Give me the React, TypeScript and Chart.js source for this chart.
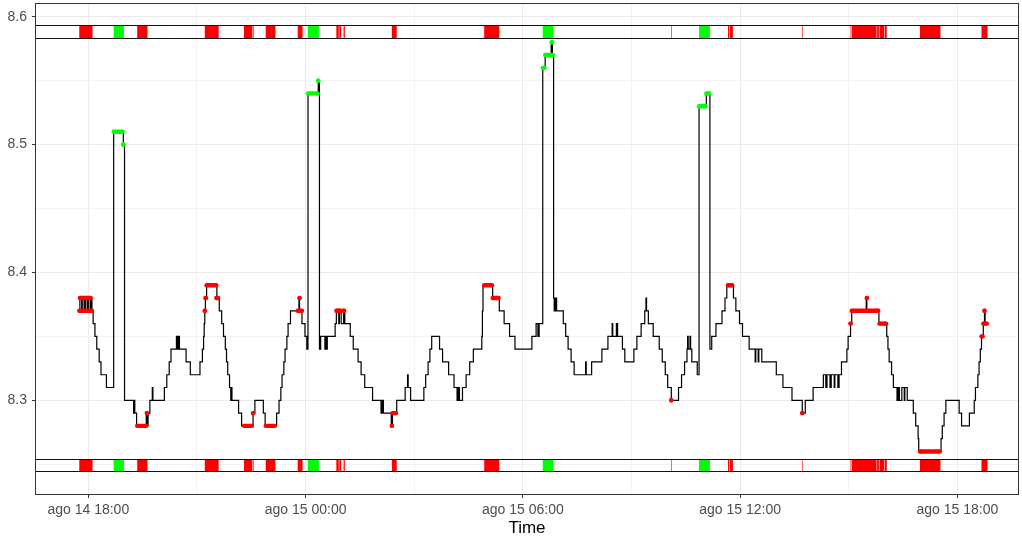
import React, { useEffect, useRef } from "react";
import { Chart, registerables } from "chart.js";
Chart.register(...registerables);

// time in minutes since ago 14 00:00
const lineTimes = [
  1065, 1066, 1069, 1070, 1073, 1075, 1078, 1080, 1083, 1084, 1086, 1088, 1091, 1094, 1098, 1101, 1110,
  1122, 1138, 1140, 1155, 1156, 1157, 1160, 1176, 1177, 1179, 1182, 1186, 1187, 1206, 1210, 1214, 1217,
  1226, 1228, 1229, 1231, 1242, 1249, 1265, 1269, 1271, 1272, 1273, 1274, 1276, 1293, 1297, 1301, 1304,
  1307, 1309, 1311, 1314, 1316, 1317, 1318, 1329, 1334, 1353, 1356, 1370, 1373, 1392, 1396, 1399, 1401,
  1404, 1406, 1409, 1411, 1415, 1429, 1430, 1434, 1439, 1442, 1444, 1461, 1463, 1465, 1472, 1473, 1475,
  1476, 1489, 1491, 1495, 1496, 1499, 1503, 1505, 1514, 1519, 1527, 1532, 1538, 1551, 1565, 1567, 1569,
  1582, 1584, 1591, 1605, 1609, 1610, 1614, 1636, 1639, 1643, 1646, 1649, 1662, 1667, 1677, 1686, 1691,
  1693, 1695, 1700, 1706, 1712, 1718, 1732, 1733, 1734, 1750, 1761, 1769, 1778, 1787, 1815, 1822, 1825,
  1827, 1833, 1837, 1847, 1849, 1851, 1852, 1854, 1856, 1867, 1871, 1875, 1880, 1885, 1904, 1905, 1914,
  1931, 1941, 1948, 1949, 1955, 1957, 1965, 1969, 1984, 1989, 1996, 2002, 2004, 2005, 2008, 2016, 2026,
  2031, 2036, 2040, 2046, 2058, 2063, 2068, 2072, 2073, 2074, 2077, 2078, 2080, 2089, 2092, 2104, 2110,
  2113, 2120, 2130, 2135, 2138, 2149, 2153, 2159, 2164, 2175, 2185, 2186, 2190, 2191, 2196, 2220, 2231,
  2246, 2263, 2268, 2281, 2298, 2302, 2304, 2309, 2311, 2316, 2317, 2322, 2324, 2328, 2337, 2339, 2343,
  2345, 2369, 2370, 2390, 2403, 2405, 2407, 2411, 2414, 2420, 2422, 2424, 2428, 2432, 2433, 2437, 2447,
  2451, 2455, 2456, 2493, 2495, 2498, 2501, 2523, 2527, 2540, 2548, 2550, 2554, 2556, 2558, 2560, 2563,
  2565, 2566, 2569,
];
const lineValues = [
  8.37, 8.38, 8.37, 8.38, 8.37, 8.38, 8.37, 8.38, 8.37, 8.38, 8.37, 8.36, 8.35, 8.34, 8.33, 8.32, 8.31,
  8.51, 8.50, 8.30, 8.29, 8.30, 8.29, 8.28, 8.29, 8.28, 8.29, 8.30, 8.31, 8.30, 8.31, 8.32, 8.33, 8.34,
  8.35, 8.34, 8.35, 8.34, 8.33, 8.32, 8.33, 8.34, 8.35, 8.36, 8.37, 8.38, 8.39, 8.38, 8.37, 8.36, 8.35,
  8.34, 8.33, 8.32, 8.31, 8.30, 8.31, 8.30, 8.29, 8.28, 8.29, 8.30, 8.29, 8.28, 8.29, 8.30, 8.31, 8.32,
  8.33, 8.34, 8.35, 8.36, 8.37, 8.38, 8.37, 8.36, 8.35, 8.34, 8.54, 8.55, 8.34, 8.35, 8.34, 8.35, 8.34,
  8.35, 8.36, 8.37, 8.36, 8.37, 8.36, 8.37, 8.36, 8.35, 8.34, 8.33, 8.32, 8.31, 8.30, 8.29, 8.30, 8.29,
  8.28, 8.29, 8.30, 8.31, 8.32, 8.31, 8.30, 8.31, 8.32, 8.33, 8.34, 8.35, 8.34, 8.33, 8.32, 8.31, 8.30,
  8.31, 8.30, 8.31, 8.32, 8.33, 8.34, 8.35, 8.37, 8.39, 8.38, 8.37, 8.36, 8.35, 8.34, 8.35, 8.36, 8.35,
  8.36, 8.56, 8.57, 8.58, 8.57, 8.38, 8.37, 8.38, 8.37, 8.36, 8.35, 8.34, 8.33, 8.32, 8.33, 8.32, 8.33,
  8.34, 8.35, 8.36, 8.35, 8.36, 8.35, 8.34, 8.33, 8.34, 8.35, 8.36, 8.37, 8.38, 8.37, 8.36, 8.35, 8.34,
  8.33, 8.32, 8.31, 8.30, 8.31, 8.32, 8.33, 8.34, 8.35, 8.34, 8.35, 8.34, 8.33, 8.32, 8.53, 8.54, 8.34,
  8.35, 8.36, 8.37, 8.38, 8.39, 8.38, 8.37, 8.36, 8.35, 8.34, 8.33, 8.34, 8.33, 8.34, 8.33, 8.32, 8.31,
  8.30, 8.29, 8.30, 8.31, 8.32, 8.31, 8.32, 8.31, 8.32, 8.31, 8.32, 8.31, 8.32, 8.33, 8.34, 8.35, 8.36,
  8.37, 8.38, 8.37, 8.36, 8.35, 8.34, 8.33, 8.32, 8.31, 8.30, 8.31, 8.30, 8.31, 8.30, 8.31, 8.30, 8.29,
  8.28, 8.27, 8.26, 8.27, 8.28, 8.29, 8.30, 8.29, 8.28, 8.29, 8.30, 8.31, 8.32, 8.33, 8.34, 8.35, 8.36,
  8.37, 8.36, 8.36,
];

// runs of flagged (low/high) observations: start minute, end minute, value
const redStart = [1065, 1066, 1161, 1177, 1273, 1274, 1276, 1292, 1338, 1353, 1374, 1427, 1430, 1491, 1496, 1503, 1583, 1584, 1736, 1750, 2046, 2140, 2143, 2263, 2343, 2345, 2370, 2387, 2391, 2400, 2458, 2560, 2563, 2565, 2566];
const redEnd   = [1086, 1084, 1176, 1177, 1273, 1275, 1292, 1295, 1351, 1353, 1389, 1434, 1430, 1494, 1498, 1504, 1583, 1590, 1749, 1760, 2046, 2141, 2147, 2263, 2343, 2385, 2370, 2389, 2398, 2402, 2491, 2562, 2564, 2565, 2569];
const redValue = [8.37, 8.38, 8.28, 8.29, 8.37, 8.38, 8.39, 8.38, 8.28, 8.29, 8.28, 8.37, 8.38, 8.37, 8.37, 8.37, 8.28, 8.29, 8.39, 8.38, 8.30, 8.39, 8.39, 8.29, 8.36, 8.37, 8.38, 8.37, 8.36, 8.36, 8.26, 8.35, 8.36, 8.37, 8.36];

const greenStart = [1122, 1138, 1444, 1461, 1833, 1837, 1848, 2092, 2104];
const greenEnd   = [1137, 1138, 1460, 1461, 1836, 1850, 1848, 2103, 2109];
const greenValue = [8.51, 8.50, 8.54, 8.55, 8.56, 8.57, 8.58, 8.53, 8.54];

// rug band limits (value units)
const bandLow = [8.5836, 8.2445];
const bandHigh = [8.5935, 8.2541];

const xTickValues = [1080, 1440, 1800, 2160, 2520];
const xTickLabels = ["ago 14 18:00", "ago 15 00:00", "ago 15 06:00", "ago 15 12:00", "ago 15 18:00"];
const xMinorTicks = [1260, 1620, 1980, 2340];
const yTickValues = [8.3, 8.4, 8.5, 8.6];
const yTickLabels = ["8.3", "8.4", "8.5", "8.6"];
const yMinorTicks = [8.25, 8.35, 8.45, 8.55];

const X_MIN = 993.3;
const X_MAX = 2620.5;
const Y_MIN = 8.22672;
const Y_MAX = 8.60993;

const FONT = "'Liberation Sans', Arial, sans-serif";

function runsToData(starts: number[], ends: number[], values: number[]) {
  const out: any[] = [];
  starts.forEach((s, i) => {
    out.push({ x: s, y: values[i] });
    out.push({ x: ends[i], y: values[i] });
    out.push({ x: ends[i], y: null });
  });
  return out;
}

// union of 1-minute observation tiles covered by runs
function mergeRuns(starts: number[], ends: number[]) {
  const iv = starts.map((s, i) => [s, ends[i] + 1]).sort((a, b) => a[0] - b[0]);
  const out: number[][] = [];
  iv.forEach(([s, e]) => {
    const last = out[out.length - 1];
    if (last && s <= last[1]) last[1] = Math.max(last[1], e);
    else out.push([s, e]);
  });
  return out;
}

const isMajorX = (v: number) => xTickValues.indexOf(v) >= 0;
const yMajorIndex = (v: number) => yTickValues.findIndex((t) => Math.abs(t - v) < 1e-6);

const overlayPlugin = {
  id: "overlay",
  beforeDatasetsDraw(chart: any) {
    const { ctx, chartArea: a, scales } = chart;
    const x = scales.x;
    const y = scales.y;
    ctx.save();
    ctx.beginPath();
    ctx.rect(a.left, a.top, a.right - a.left, a.bottom - a.top);
    ctx.clip();
    const drawRuns = (starts: number[], ends: number[], color: string) => {
      ctx.fillStyle = color;
      const merged = mergeRuns(starts, ends);
      bandLow.forEach((lo, b) => {
        const yTop = Math.round(y.getPixelForValue(bandHigh[b])) + 0.5;
        const yBot = Math.round(y.getPixelForValue(lo)) + 0.5;
        merged.forEach(([s, e]) => {
          const x0 = x.getPixelForValue(s);
          const x1 = x.getPixelForValue(e);
          ctx.fillRect(x0, yTop, x1 - x0, yBot - yTop);
        });
      });
    };
    drawRuns(redStart, redEnd, "#FF0000");
    drawRuns(greenStart, greenEnd, "#00FF00");
    ctx.strokeStyle = "#111111";
    ctx.lineWidth = 1;
    [...bandLow, ...bandHigh].forEach((v) => {
      const py = Math.round(y.getPixelForValue(v)) + 0.5;
      ctx.beginPath();
      ctx.moveTo(a.left, py);
      ctx.lineTo(a.right, py);
      ctx.stroke();
    });
    ctx.restore();
  },
  afterDatasetsDraw(chart: any) {
    const { ctx, chartArea: a } = chart;
    ctx.save();
    ctx.strokeStyle = "#333333";
    ctx.lineWidth = 1;
    ctx.strokeRect(a.left - 0.5, a.top - 0.5, a.right - a.left + 1, a.bottom - a.top + 1);
    ctx.restore();
  },
};

export default function App() {
  const ref = useRef<HTMLCanvasElement>(null);
  useEffect(() => {
    if (!ref.current) return;
    const chart = new Chart(ref.current, {
      type: "line",
      data: {
        datasets: [
          {
            label: "green",
            data: runsToData(greenStart, greenEnd, greenValue),
            borderColor: "#00FF00",
            backgroundColor: "#00FF00",
            borderWidth: 4.4,
            pointRadius: 2.2,
            pointBorderWidth: 0,
            pointBackgroundColor: "#00FF00",
            spanGaps: false,
            order: 0,
          },
          {
            label: "red",
            data: runsToData(redStart, redEnd, redValue),
            borderColor: "#FF0000",
            backgroundColor: "#FF0000",
            borderWidth: 4.4,
            pointRadius: 2.2,
            pointBorderWidth: 0,
            pointBackgroundColor: "#FF0000",
            spanGaps: false,
            order: 1,
          },
          {
            label: "value",
            data: lineTimes.map((t, i) => ({ x: t, y: lineValues[i] })),
            borderColor: "#000000",
            borderWidth: 1.2,
            pointRadius: 0,
            stepped: true,
            order: 2,
          },
        ],
      },
      options: {
        animation: false,
        responsive: false,
        events: [],
        layout: { padding: { top: 4, right: 4, left: 0, bottom: 0 } },
        plugins: { legend: { display: false }, tooltip: { enabled: false } },
        scales: {
          x: {
            type: "linear",
            min: X_MIN,
            max: X_MAX,
            afterFit: (s: any) => {
              s.height = 45;
              s.paddingLeft = 0;
              s.paddingRight = 0;
            },
            afterBuildTicks: (s: any) => {
              s.ticks = [...xTickValues, ...xMinorTicks].sort((a, b) => a - b).map((v) => ({ value: v }));
            },
            border: { display: false },
            grid: {
              color: (c: any) => (isMajorX(c.tick?.value) ? "#EBEBEB" : "#F3F3F3"),
              lineWidth: 1,
              tickLength: 4,
              tickColor: (c: any) => (isMajorX(c.tick?.value) ? "#333333" : "rgba(0,0,0,0)"),
            },
            ticks: {
              autoSkip: false,
              maxRotation: 0,
              padding: 4,
              color: "#4D4D4D",
              font: { family: FONT, size: 14 },
              callback: (v: any) => {
                const i = xTickValues.indexOf(Number(v));
                return i >= 0 ? xTickLabels[i] : "";
              },
            },
            title: {
              display: true,
              text: "Time",
              color: "#000000",
              font: { family: FONT, size: 17 },
              padding: { top: 0, bottom: 0 },
            },
          },
          y: {
            type: "linear",
            min: Y_MIN,
            max: Y_MAX,
            afterFit: (s: any) => {
              s.width = 36;
              s.paddingTop = 0;
              s.paddingBottom = 0;
            },
            afterBuildTicks: (s: any) => {
              s.ticks = [...yTickValues, ...yMinorTicks].sort((a, b) => a - b).map((v) => ({ value: v }));
            },
            border: { display: false },
            grid: {
              color: (c: any) => (yMajorIndex(c.tick?.value) >= 0 ? "#EBEBEB" : "#F3F3F3"),
              lineWidth: 1,
              tickLength: 4,
              tickColor: (c: any) => (yMajorIndex(c.tick?.value) >= 0 ? "#333333" : "rgba(0,0,0,0)"),
            },
            ticks: {
              autoSkip: false,
              padding: 5,
              color: "#4D4D4D",
              font: { family: FONT, size: 14 },
              callback: (v: any) => {
                const i = yMajorIndex(Number(v));
                return i >= 0 ? yTickLabels[i] : "";
              },
            },
          },
        },
      },
      plugins: [overlayPlugin],
    } as any);
    return () => chart.destroy();
  }, []);
  return (
    <div style={{ position: "fixed", left: 0, top: 0, width: 1022, height: 539, background: "#fff" }}>
      <canvas ref={ref} width={1022} height={539} style={{ display: "block" }} />
    </div>
  );
}
